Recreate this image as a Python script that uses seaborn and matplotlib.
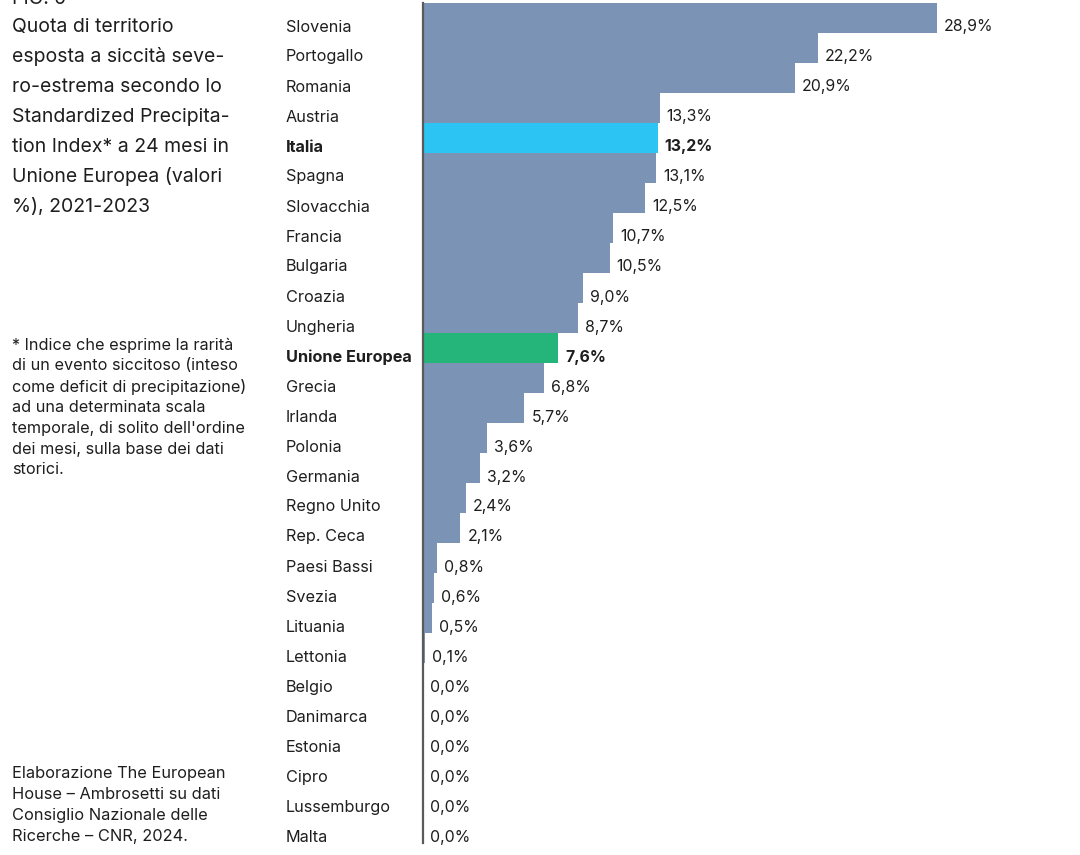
import matplotlib
matplotlib.use("Agg")
import matplotlib.pyplot as plt
import matplotlib.transforms as mtransforms
import seaborn as sns
import pandas as pd

countries = ["Slovenia", "Portogallo", "Romania", "Austria", "Italia", "Spagna",
             "Slovacchia", "Francia", "Bulgaria", "Croazia", "Ungheria",
             "Unione Europea", "Grecia", "Irlanda", "Polonia", "Germania",
             "Regno Unito", "Rep. Ceca", "Paesi Bassi", "Svezia", "Lituania",
             "Lettonia", "Belgio", "Danimarca", "Estonia", "Cipro",
             "Lussemburgo", "Malta"]
values = [28.9, 22.2, 20.9, 13.3, 13.2, 13.1, 12.5, 10.7, 10.5, 9.0, 8.7,
          7.6, 6.8, 5.7, 3.6, 3.2, 2.4, 2.1, 0.8, 0.6, 0.5, 0.1,
          0.0, 0.0, 0.0, 0.0, 0.0, 0.0]
highlight = {"Italia": "#2BC4F3", "Unione Europea": "#25B57B"}
base_color = "#7B93B4"

title_lines = ["Quota di territorio", "esposta a siccità seve-",
               "ro-estrema secondo lo", "Standardized Precipita-",
               "tion Index* a 24 mesi in", "Unione Europea (valori",
               "%), 2021-2023"]
note_lines = ["* Indice che esprime la rarità",
              "di un evento siccitoso (inteso",
              "come deficit di precipitazione)",
              "ad una determinata scala",
              "temporale, di solito dell'ordine",
              "dei mesi, sulla base dei dati",
              "storici."]
source_lines = ["Elaborazione The European",
                "House – Ambrosetti su dati",
                "Consiglio Nazionale delle",
                "Ricerche – CNR, 2024."]

sns.set_theme(style="white")
plt.rcParams["font.family"] = ["Inter", "DejaVu Sans"]
TXT = "#1E1E1E"

df = pd.DataFrame({"country": countries, "value": values})
palette = {c: highlight.get(c, base_color) for c in countries}

W, H = 1080, 855
fig = plt.figure(figsize=(W / 100, H / 100), dpi=100)
ax_left, ax_top, ax_bottom = 423, 3, 843
ax = fig.add_axes([ax_left / W, 1 - ax_bottom / H, (W - ax_left) / W,
                   (ax_bottom - ax_top) / H])
sns.barplot(data=df, y="country", x="value", hue="country", palette=palette,
            orient="h", width=1.0, legend=False, ax=ax, saturation=1,
            linewidth=0)

px_per_unit = (937 - ax_left) / 28.9
ax.set_xlim(0, (W - ax_left) / px_per_unit)
ax.set_ylim(len(countries) - 0.5, -0.5)
for s in ["top", "right", "bottom"]:
    ax.spines[s].set_visible(False)
ax.spines["left"].set_color("#5A5A5A")
ax.spines["left"].set_linewidth(1.6)
ax.set_xticks([])
ax.set_yticks([])
ax.set_xlabel("")
ax.set_ylabel("")

down = mtransforms.ScaledTranslation(0, -9 / 100, fig.dpi_scale_trans)
lab_tr = mtransforms.blended_transform_factory(fig.transFigure, ax.transData) + down
val_tr = ax.transData + mtransforms.ScaledTranslation(7 / 100, -9 / 100, fig.dpi_scale_trans)
for i, (c, v) in enumerate(zip(countries, values)):
    bold = c in highlight
    ax.text(286 / W, i, c, transform=lab_tr, ha="left", va="center",
            fontsize=11.7, color=TXT, fontweight="bold" if bold else "normal")
    ax.text(v, i, f"{v:.1f}%".replace(".", ","), transform=val_tr,
            ha="left", va="center", fontsize=11.4, color=TXT,
            fontweight="bold" if bold else "normal")

# partially visible figure label at the top (cut off as in the original)
fig.text(12 / W, 1 - 4 / H, "FIG. 9", ha="left", va="baseline",
         fontsize=14, color=TXT)
for k, line in enumerate(title_lines):
    fig.text(12 / W, 1 - (27 + 30 * k) / H, line, ha="left", va="center",
             fontsize=14, color=TXT)
for k, line in enumerate(note_lines):
    fig.text(12 / W, 1 - (345 + 20.8 * k) / H, line, ha="left", va="center",
             fontsize=11.7, color=TXT)
for k, line in enumerate(source_lines):
    fig.text(12 / W, 1 - (773 + 21 * k) / H, line, ha="left", va="center",
             fontsize=11.8, color=TXT)

fig.savefig("out.png", dpi=100)
